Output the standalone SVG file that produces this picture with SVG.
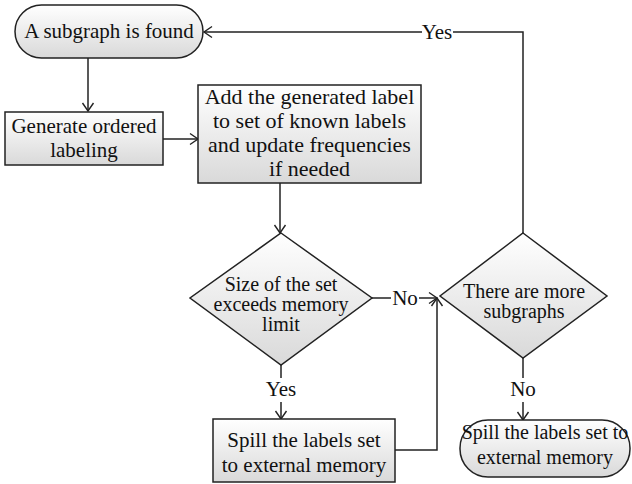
<svg xmlns="http://www.w3.org/2000/svg" width="632" height="484" viewBox="0 0 632 484">
<defs>
<linearGradient id="g" x1="0" y1="0" x2="0" y2="1">
<stop offset="0" stop-color="#ffffff"/>
<stop offset="1" stop-color="#d9d9d9"/>
</linearGradient>
<marker id="arr" markerUnits="userSpaceOnUse" markerWidth="14" markerHeight="14" refX="9" refY="6" orient="auto" viewBox="0 0 14 12">
<path d="M1,0.5 L9,6 L1,11.5" fill="none" stroke="#222" stroke-width="1.4"/>
</marker>
</defs>
<style>
.shape{fill:url(#g);stroke:#222;stroke-width:1.5}
text{font-family:'Liberation Serif','Times New Roman',serif;fill:#111;text-anchor:middle;font-size:21px}
.d{font-size:20px}
.a{font-size:22px}
.s{font-size:20px}
.c{fill:none;stroke:#222;stroke-width:1.5}
.lb{fill:#fff}
</style>
<rect width="632" height="484" fill="#fff"/>
<g id="connectors">
<path class="c" d="M88,58 V111" marker-end="url(#arr)"/>
<path class="c" d="M163,139 H198" marker-end="url(#arr)"/>
<path class="c" d="M280,183 V233" marker-end="url(#arr)"/>
<path class="c" d="M372,298 H437" marker-end="url(#arr)"/>
<path class="c" d="M395,450 H437 V298" marker-end="url(#arr)"/>
<path class="c" d="M281,365 V419" marker-end="url(#arr)"/>
<path class="c" d="M523,357 V420" marker-end="url(#arr)"/>
<path class="c" d="M523,233 V32 H204" marker-end="url(#arr)"/>
<rect class="lb" x="391" y="286" width="28" height="24"/>
<text x="405" y="305">No</text>
<rect class="lb" x="266" y="378" width="30" height="24"/>
<text x="281" y="396">Yes</text>
<rect class="lb" x="510" y="378" width="28" height="24"/>
<text x="523" y="396">No</text>
<rect class="lb" x="422" y="20" width="31" height="24"/>
<text x="437" y="39">Yes</text>
</g>
<g id="start">
<rect class="shape" x="15" y="5" width="188" height="53" rx="26.5" ry="26.5"/>
<text x="109" y="38">A subgraph is found</text>
</g>
<g id="generate">
<rect class="shape" x="5" y="112" width="158" height="53"/>
<text x="84" y="133">Generate ordered</text>
<text x="84" y="157">labeling</text>
</g>
<g id="add">
<rect class="shape" x="198" y="85" width="223" height="98"/>
<text class="a" x="309.5" y="104">Add the generated label</text>
<text class="a" x="309.5" y="128">to set of known labels</text>
<text class="a" x="309.5" y="152">and update frequencies</text>
<text class="a" x="309.5" y="176">if needed</text>
</g>
<g id="sizecheck">
<polygon class="shape" points="281,233 372,298 281,365 190,298"/>
<text class="d" x="281" y="291">Size of the set</text>
<text class="d" x="281" y="311">exceeds memory</text>
<text class="d" x="281" y="331">limit</text>
</g>
<g id="morecheck">
<polygon class="shape" points="523,233 607,296 523,358 440,296"/>
<text class="d" x="524" y="298">There are more</text>
<text class="d" x="524" y="318">subgraphs</text>
</g>
<g id="spill1">
<rect class="shape" x="213" y="419" width="182" height="63"/>
<text x="304" y="447">Spill the labels set</text>
<text x="304" y="472">to external memory</text>
</g>
<g id="spill2">
<rect class="shape" x="460" y="420" width="170" height="57" rx="28" ry="28"/>
<text class="s" x="545" y="439">Spill the labels set to</text>
<text class="s" x="545" y="464">external memory</text>
</g>
</svg>
